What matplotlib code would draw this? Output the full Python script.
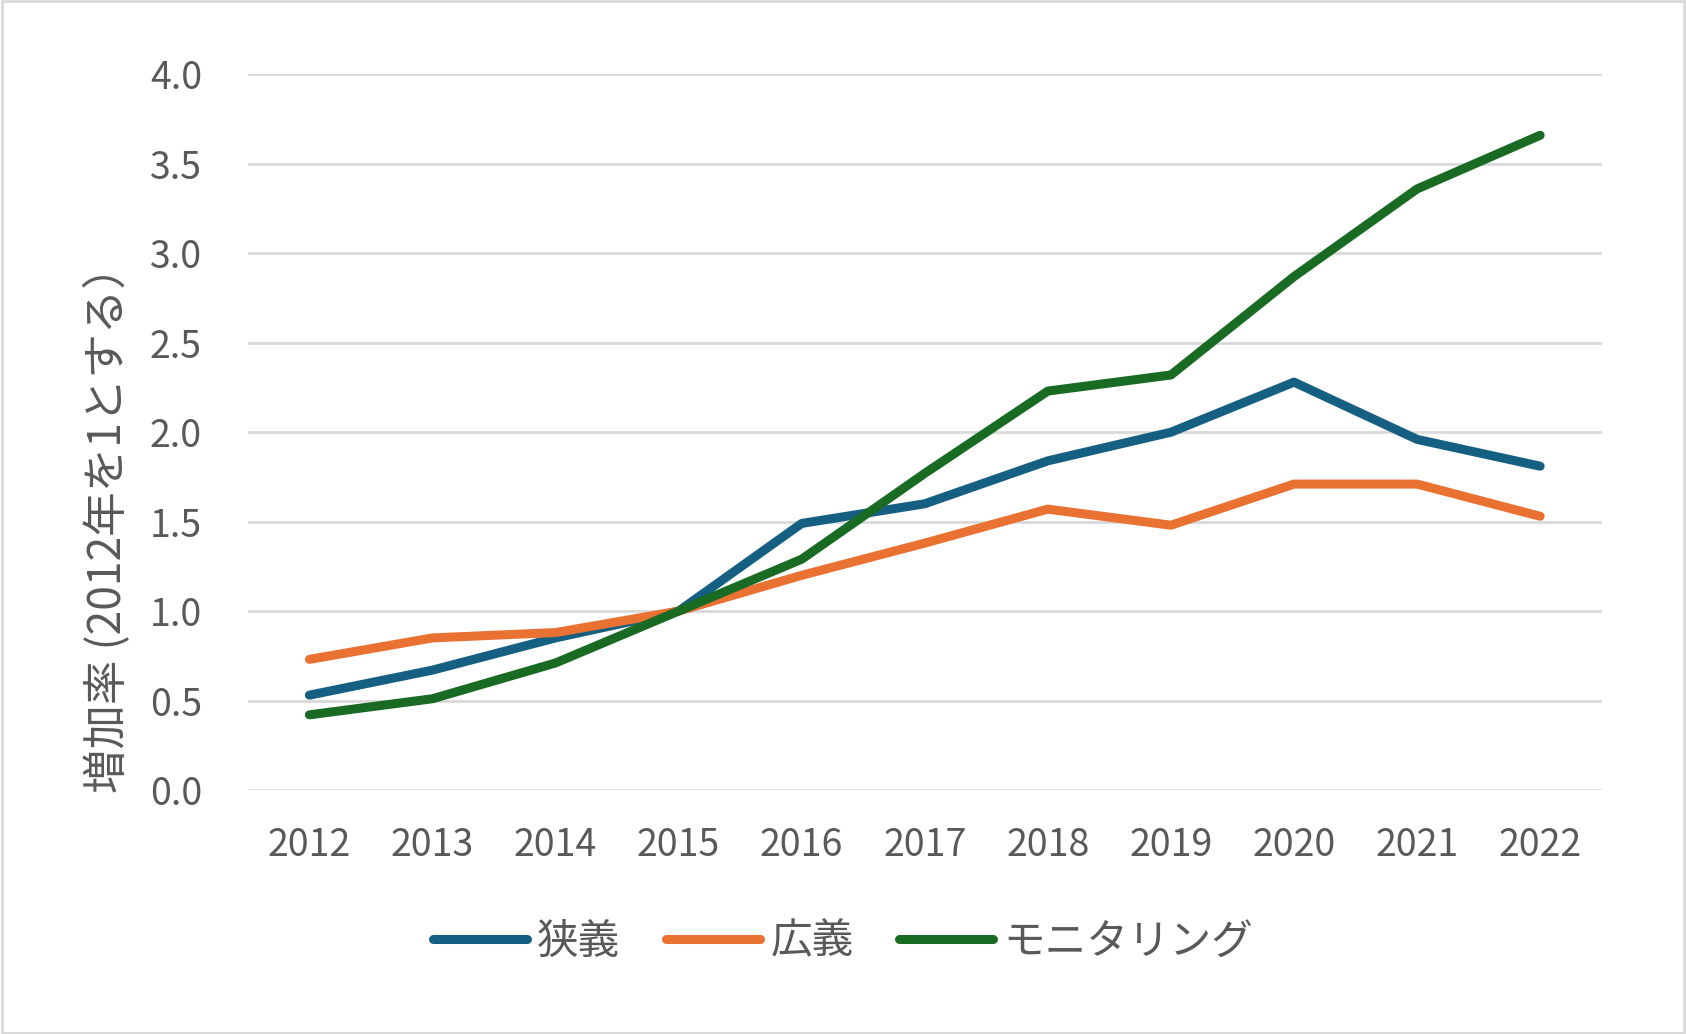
import matplotlib.pyplot as plt
from matplotlib.patches import Rectangle

plt.rcParams['font.family'] = ['Noto Sans CJK JP', 'DejaVu Sans']

years = ['2012', '2013', '2014', '2015', '2016', '2017', '2018', '2019', '2020', '2021', '2022']
narrow = [0.53, 0.67, 0.85, 1.00, 1.49, 1.60, 1.84, 2.00, 2.28, 1.96, 1.81]
broad = [0.73, 0.85, 0.88, 1.00, 1.20, 1.38, 1.57, 1.48, 1.71, 1.71, 1.53]
monitoring = [0.42, 0.51, 0.71, 1.00, 1.29, 1.77, 2.23, 2.32, 2.87, 3.36, 3.66]
labels = ['狭義', '広義', 'モニタリング']
colors = ['#156082', '#e97132', '#196b24']
yticks = [0.0, 0.5, 1.0, 1.5, 2.0, 2.5, 3.0, 3.5, 4.0]

grey = '#595959'

fig = plt.figure(figsize=(16.86, 10.34), dpi=100)
ax = fig.add_axes([0.147, 0.236, 0.803, 0.692])

x = range(len(years))
for vals, lab, c in zip([narrow, broad, monitoring], labels, colors):
    ax.plot(x, vals, color=c, lw=6.5, label=lab, solid_capstyle='round', solid_joinstyle='round')

ax.set_xlim(-0.5, len(years) - 0.5)
ax.set_ylim(0, 4.0)
ax.set_xticks(list(x))
ax.set_xticklabels(years)
ax.set_yticks(yticks)
ax.set_yticklabels([f'{v:.1f}' for v in yticks])
ax.tick_params(axis='both', length=0, labelsize=27, colors=grey)
ax.tick_params(axis='x', pad=26)
ax.tick_params(axis='y', pad=33)
ax.grid(axis='y', color='#d9d9d9', lw=2)
ax.set_axisbelow(True)
for s in ax.spines.values():
    s.set_visible(False)

# the label sits a bit below the middle of the axis, as in the original
ax.set_ylabel('増加率 (2012年を1とする）', fontsize=32, color=grey, labelpad=14, y=0.38)

leg = fig.legend(loc='center', bbox_to_anchor=(0.5, 0.089), ncol=3, frameon=False,
                 fontsize=30, labelcolor=grey, handlelength=2.25, handletextpad=0.25,
                 columnspacing=1.1)
for h in leg.get_lines():
    h.set_linewidth(6.5)

fig.patches.append(Rectangle((0.001, 0.001), 0.998, 0.998, transform=fig.transFigure,
                             fill=False, edgecolor='#d9d9d9', lw=2))

fig.savefig('out.png', dpi=100)
